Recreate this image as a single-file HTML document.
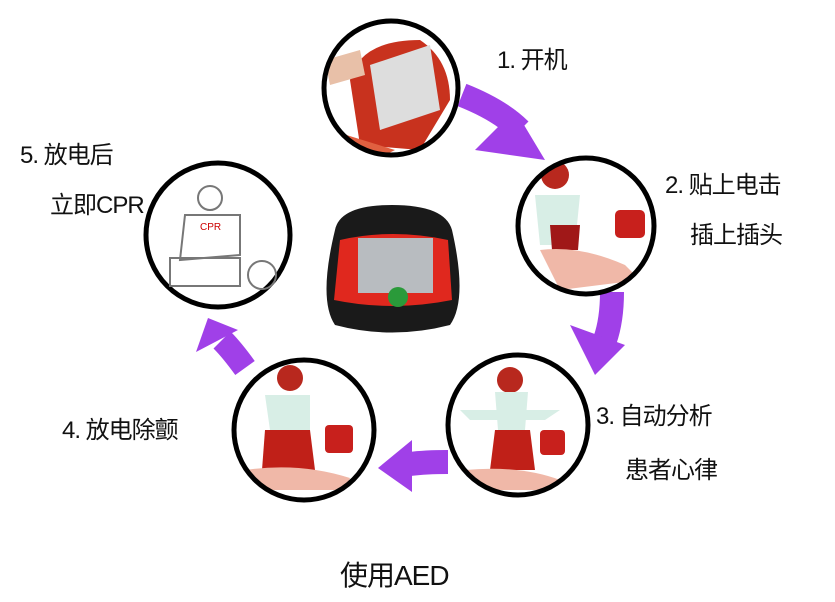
<!DOCTYPE html>
<html><head><meta charset="utf-8"><style>
body{margin:0;width:835px;height:602px;background:#fff;overflow:hidden;position:relative;font-family:"Liberation Sans","Noto Sans CJK SC",sans-serif}
.t{position:absolute;font-size:24px;color:#111;white-space:nowrap;letter-spacing:-1px}
</style></head><body>
<svg width="835" height="602" style="position:absolute;left:0;top:0">
<defs>
<clipPath id="c1"><circle cx="391" cy="88" r="66"/></clipPath>
<clipPath id="c2"><circle cx="586" cy="226" r="67"/></clipPath>
<clipPath id="c3"><circle cx="518" cy="425" r="69"/></clipPath>
<clipPath id="c4"><circle cx="304" cy="430" r="69"/></clipPath>
</defs>
<g fill="none" stroke="#a040e8" stroke-width="24">
<path d="M462 95 Q500 110 520 130"/>
<path d="M612 292 Q612 320 605 340"/>
<path d="M448 462 Q425 462 410 464"/>
<path d="M245 368 Q232 350 222 340"/>
</g>
<g fill="#a040e8">
<polygon points="515,110 545,160 475,150"/>
<polygon points="570,325 625,345 595,375"/>
<polygon points="412,440 412,492 378,468"/>
<polygon points="196,352 238,330 208,318"/>
</g>
<g fill="#fff">
<circle cx="391" cy="88" r="67"/><circle cx="586" cy="226" r="68"/><circle cx="518" cy="425" r="70"/><circle cx="304" cy="430" r="70"/><circle cx="218" cy="235" r="72"/>
</g>
<g clip-path="url(#c1)">
<path d="M350 80 Q360 40 420 40 Q450 60 450 100 L420 150 L360 145 Z" fill="#c8321e"/>
<path d="M370 65 L430 45 L440 110 L380 130 Z" fill="#ddd"/>
<path d="M325 60 L360 50 L365 75 L330 85 Z" fill="#e8c0a8"/>
<path d="M330 130 L395 150 L385 155 L325 140 Z" fill="#e06040"/>
</g>
<g clip-path="url(#c2)">
<circle cx="555" cy="175" r="14" fill="#b8281e"/>
<path d="M535 195 L580 195 L575 245 L540 245 Z" fill="#d8eee6"/>
<path d="M550 225 L580 225 L578 250 L552 250 Z" fill="#a01818"/>
<path d="M540 250 Q580 245 625 265 L640 280 L560 290 Z" fill="#f0b8a8"/>
<rect x="615" y="210" width="30" height="28" rx="5" fill="#c8201c"/>
</g>
<g clip-path="url(#c3)">
<circle cx="510" cy="380" r="13" fill="#b8281e"/>
<path d="M460 410 L560 410 L545 420 L470 420 Z" fill="#d8eee6"/>
<path d="M495 392 L528 392 L525 430 L498 430 Z" fill="#d8eee6"/>
<path d="M495 430 L530 430 L535 470 L490 470 Z" fill="#c02018"/>
<path d="M465 470 Q520 465 560 480 L555 490 L470 490 Z" fill="#f0b8a8"/>
<rect x="540" y="430" width="25" height="25" rx="4" fill="#c8201c"/>
</g>
<g clip-path="url(#c4)">
<circle cx="290" cy="378" r="13" fill="#b8281e"/>
<path d="M265 395 L310 395 L310 430 L270 430 Z" fill="#d8eee6"/>
<path d="M265 430 L310 430 L315 470 L262 470 Z" fill="#c02018"/>
<path d="M245 470 Q300 462 350 478 L345 490 L250 490 Z" fill="#f0b8a8"/>
<rect x="325" y="425" width="28" height="28" rx="4" fill="#c8201c"/>
</g>
<g stroke="#000" stroke-width="5" fill="none">
<circle cx="391" cy="88" r="67"/><circle cx="586" cy="226" r="68"/><circle cx="518" cy="425" r="70"/><circle cx="304" cy="430" r="70"/><circle cx="218" cy="235" r="72"/>
</g>
<g fill="none" stroke="#777" stroke-width="2">
<circle cx="210" cy="198" r="12"/>
<path d="M185 215 L240 215 L240 255 L180 260 Z"/>
<rect x="170" y="258" width="70" height="28"/>
<circle cx="262" cy="275" r="14"/>
</g>
<text x="200" y="230" font-size="10" fill="#c00" font-family="Liberation Sans">CPR</text>
<g>
<path d="M335 230 Q340 205 392 205 Q445 205 452 230 Q468 300 450 325 Q392 340 335 325 Q318 300 335 230 Z" fill="#1a1a1a"/>
<path d="M340 240 Q392 228 448 240 L452 300 Q392 312 334 300 Z" fill="#e0281e"/>
<rect x="358" y="238" width="75" height="55" fill="#b8bcc0"/>
<circle cx="398" cy="297" r="10" fill="#2a9a3a"/>
</g>
</svg>
<div class="t" style="left:497px;top:40px">1. 开机</div>
<div class="t" style="left:665px;top:165px">2. 贴上电击</div>
<div class="t" style="left:690px;top:215px">插上插头</div>
<div class="t" style="left:596px;top:396px">3. 自动分析</div>
<div class="t" style="left:625px;top:450px">患者心律</div>
<div class="t" style="left:62px;top:410px">4. 放电除颤</div>
<div class="t" style="left:20px;top:135px">5. 放电后</div>
<div class="t" style="left:50px;top:185px">立即CPR</div>
<div class="t" style="left:340px;top:554px;font-size:28px">使用AED</div>
</body></html>
